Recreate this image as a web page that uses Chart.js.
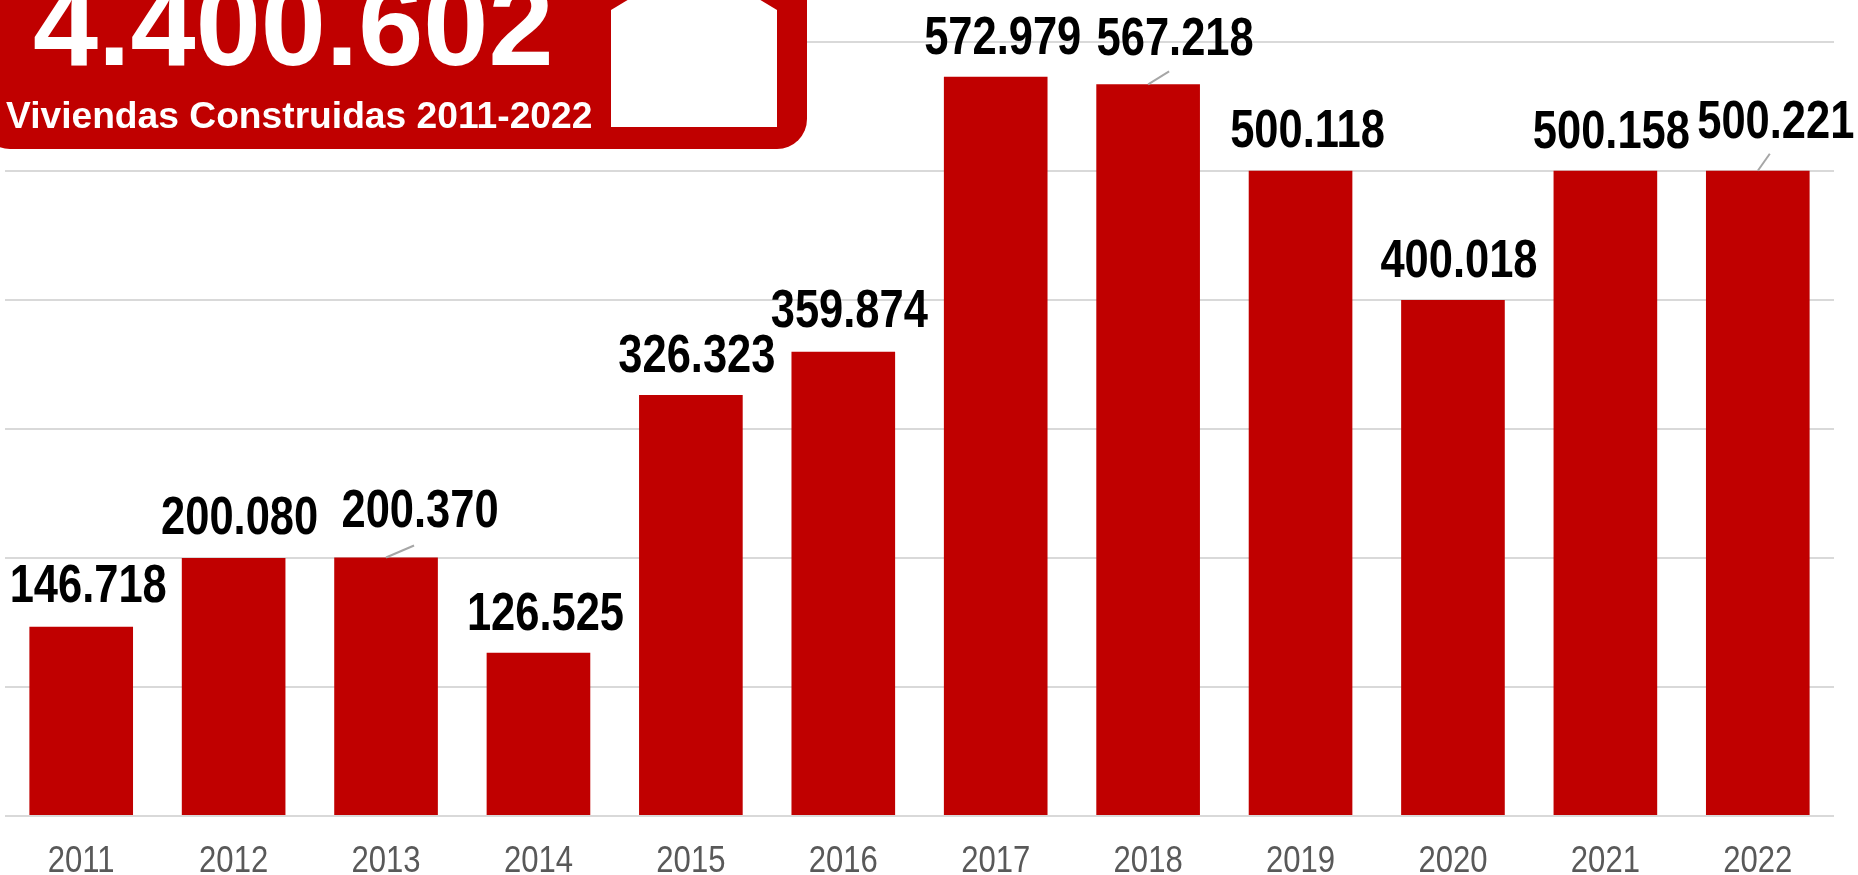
<!DOCTYPE html>
<html>
<head>
<meta charset="utf-8">
<style>
  html, body { margin: 0; padding: 0; background: #fff; overflow: hidden; }
  canvas { display: block; }
</style>
<script src="https://cdn.jsdelivr.net/npm/chart.js@4"></script>
</head>
<body>
<canvas id="viviendasChart" width="1858" height="875"></canvas>
<script>
// Values
const years = ["2011", "2012", "2013", "2014", "2015", "2016", "2017", "2018", "2019", "2020", "2021", "2022"];
const viviendas = [146718, 200080, 200370, 126525, 326323, 359874, 572979, 567218, 500118, 400018, 500158, 500221];
const valueLabels = ["146.718", "200.080", "200.370", "126.525", "326.323", "359.874", "572.979", "567.218", "500.118", "400.018", "500.158", "500.221"];
const totalLabel = "4.400.602";
const panelLabel = "Viviendas Construidas 2011-2022";

// Label nudges relative to the bar top: [dx, gap above bar]
const labelNudges = [[7, 25], [6, 24], [34, 31], [7, 23], [6, 23], [6, 25], [7, 23], [27, 29], [7, 24], [6, 23], [6, 23], [18, 33]];
// Leader lines for the labels that were moved: index -> [dx, dy]
const leaders = { 2: [28, -12], 7: [21, -13], 11: [12, -17] };

// No narrow font is installed, so squeeze Liberation Sans sideways
function narrowText(ctx, text, x, y, squeeze) {
    ctx.save();
    ctx.translate(x, y);
    ctx.scale(squeeze, 1);
    ctx.fillText(text, 0, 0);
    ctx.restore();
}

const valueLabelsPlugin = {
    id: "valueLabels",
    afterDatasetsDraw(chart) {
        const ctx = chart.ctx;
        const bars = chart.getDatasetMeta(0).data;
        ctx.save();
        ctx.strokeStyle = "#A6A6A6";
        ctx.lineWidth = 2;
        Object.keys(leaders).forEach(i => {
            ctx.beginPath();
            ctx.moveTo(bars[i].x, bars[i].y);
            ctx.lineTo(bars[i].x + leaders[i][0], bars[i].y + leaders[i][1]);
            ctx.stroke();
        });
        ctx.fillStyle = "#000";
        ctx.font = 'bold 53px "Liberation Sans"';
        ctx.textAlign = "center";
        ctx.textBaseline = "alphabetic";
        bars.forEach((bar, i) => {
            narrowText(ctx, valueLabels[i], bar.x + labelNudges[i][0], bar.y - labelNudges[i][1], 0.82);
        });

        // year labels under the bars, placed from the x scale
        const xScale = chart.scales.x;
        ctx.fillStyle = "#595959";
        ctx.font = '37px "Liberation Sans"';
        years.forEach((year, i) => {
            narrowText(ctx, year, xScale.getPixelForTick(i), 872, 0.84);
        });
        ctx.restore();
    }
};

// Red box with the total and the little house, top left
const totalPanelPlugin = {
    id: "totalPanel",
    afterDraw(chart) {
        const ctx = chart.ctx;
        ctx.save();
        ctx.fillStyle = "#C00000";
        ctx.beginPath();
        ctx.roundRect(-20, -60, 827, 209, 30);
        ctx.fill();

        ctx.fillStyle = "#fff";
        ctx.beginPath();
        ctx.moveTo(611, 127);
        ctx.lineTo(611, 10);
        ctx.lineTo(694, -40);
        ctx.lineTo(777, 10);
        ctx.lineTo(777, 127);
        ctx.closePath();
        ctx.fill();

        ctx.textAlign = "left";
        ctx.textBaseline = "alphabetic";
        ctx.font = 'bold 117px "Liberation Sans"';
        ctx.fillText(totalLabel, 33, 65);
        ctx.font = 'bold 37.2px "Liberation Sans"';
        ctx.fillText(panelLabel, 6, 128);
        ctx.restore();
    }
};

new Chart(document.getElementById("viviendasChart"), {
    type: "bar",
    data: {
        labels: years,
        datasets: [{
            data: viviendas,
            backgroundColor: "#C00000",
            categoryPercentage: 1,
            barPercentage: 0.68
        }]
    },
    options: {
        responsive: false,
        animation: false,
        layout: { padding: { left: 5, right: 24, top: 42, bottom: 51 } },
        plugins: { legend: { display: false }, tooltip: { enabled: false } },
        scales: {
            x: {
                grid: { display: false },
                border: { display: false },
                ticks: { display: false }
            },
            y: {
                min: 0,
                max: 600000,
                afterFit(scale) { scale.width = 0; },
                ticks: { display: false, stepSize: 100000 },
                border: { display: false },
                grid: { color: "#D9D9D9", lineWidth: 2, drawTicks: false }
            }
        }
    },
    plugins: [valueLabelsPlugin, totalPanelPlugin]
});
</script>
</body>
</html>
